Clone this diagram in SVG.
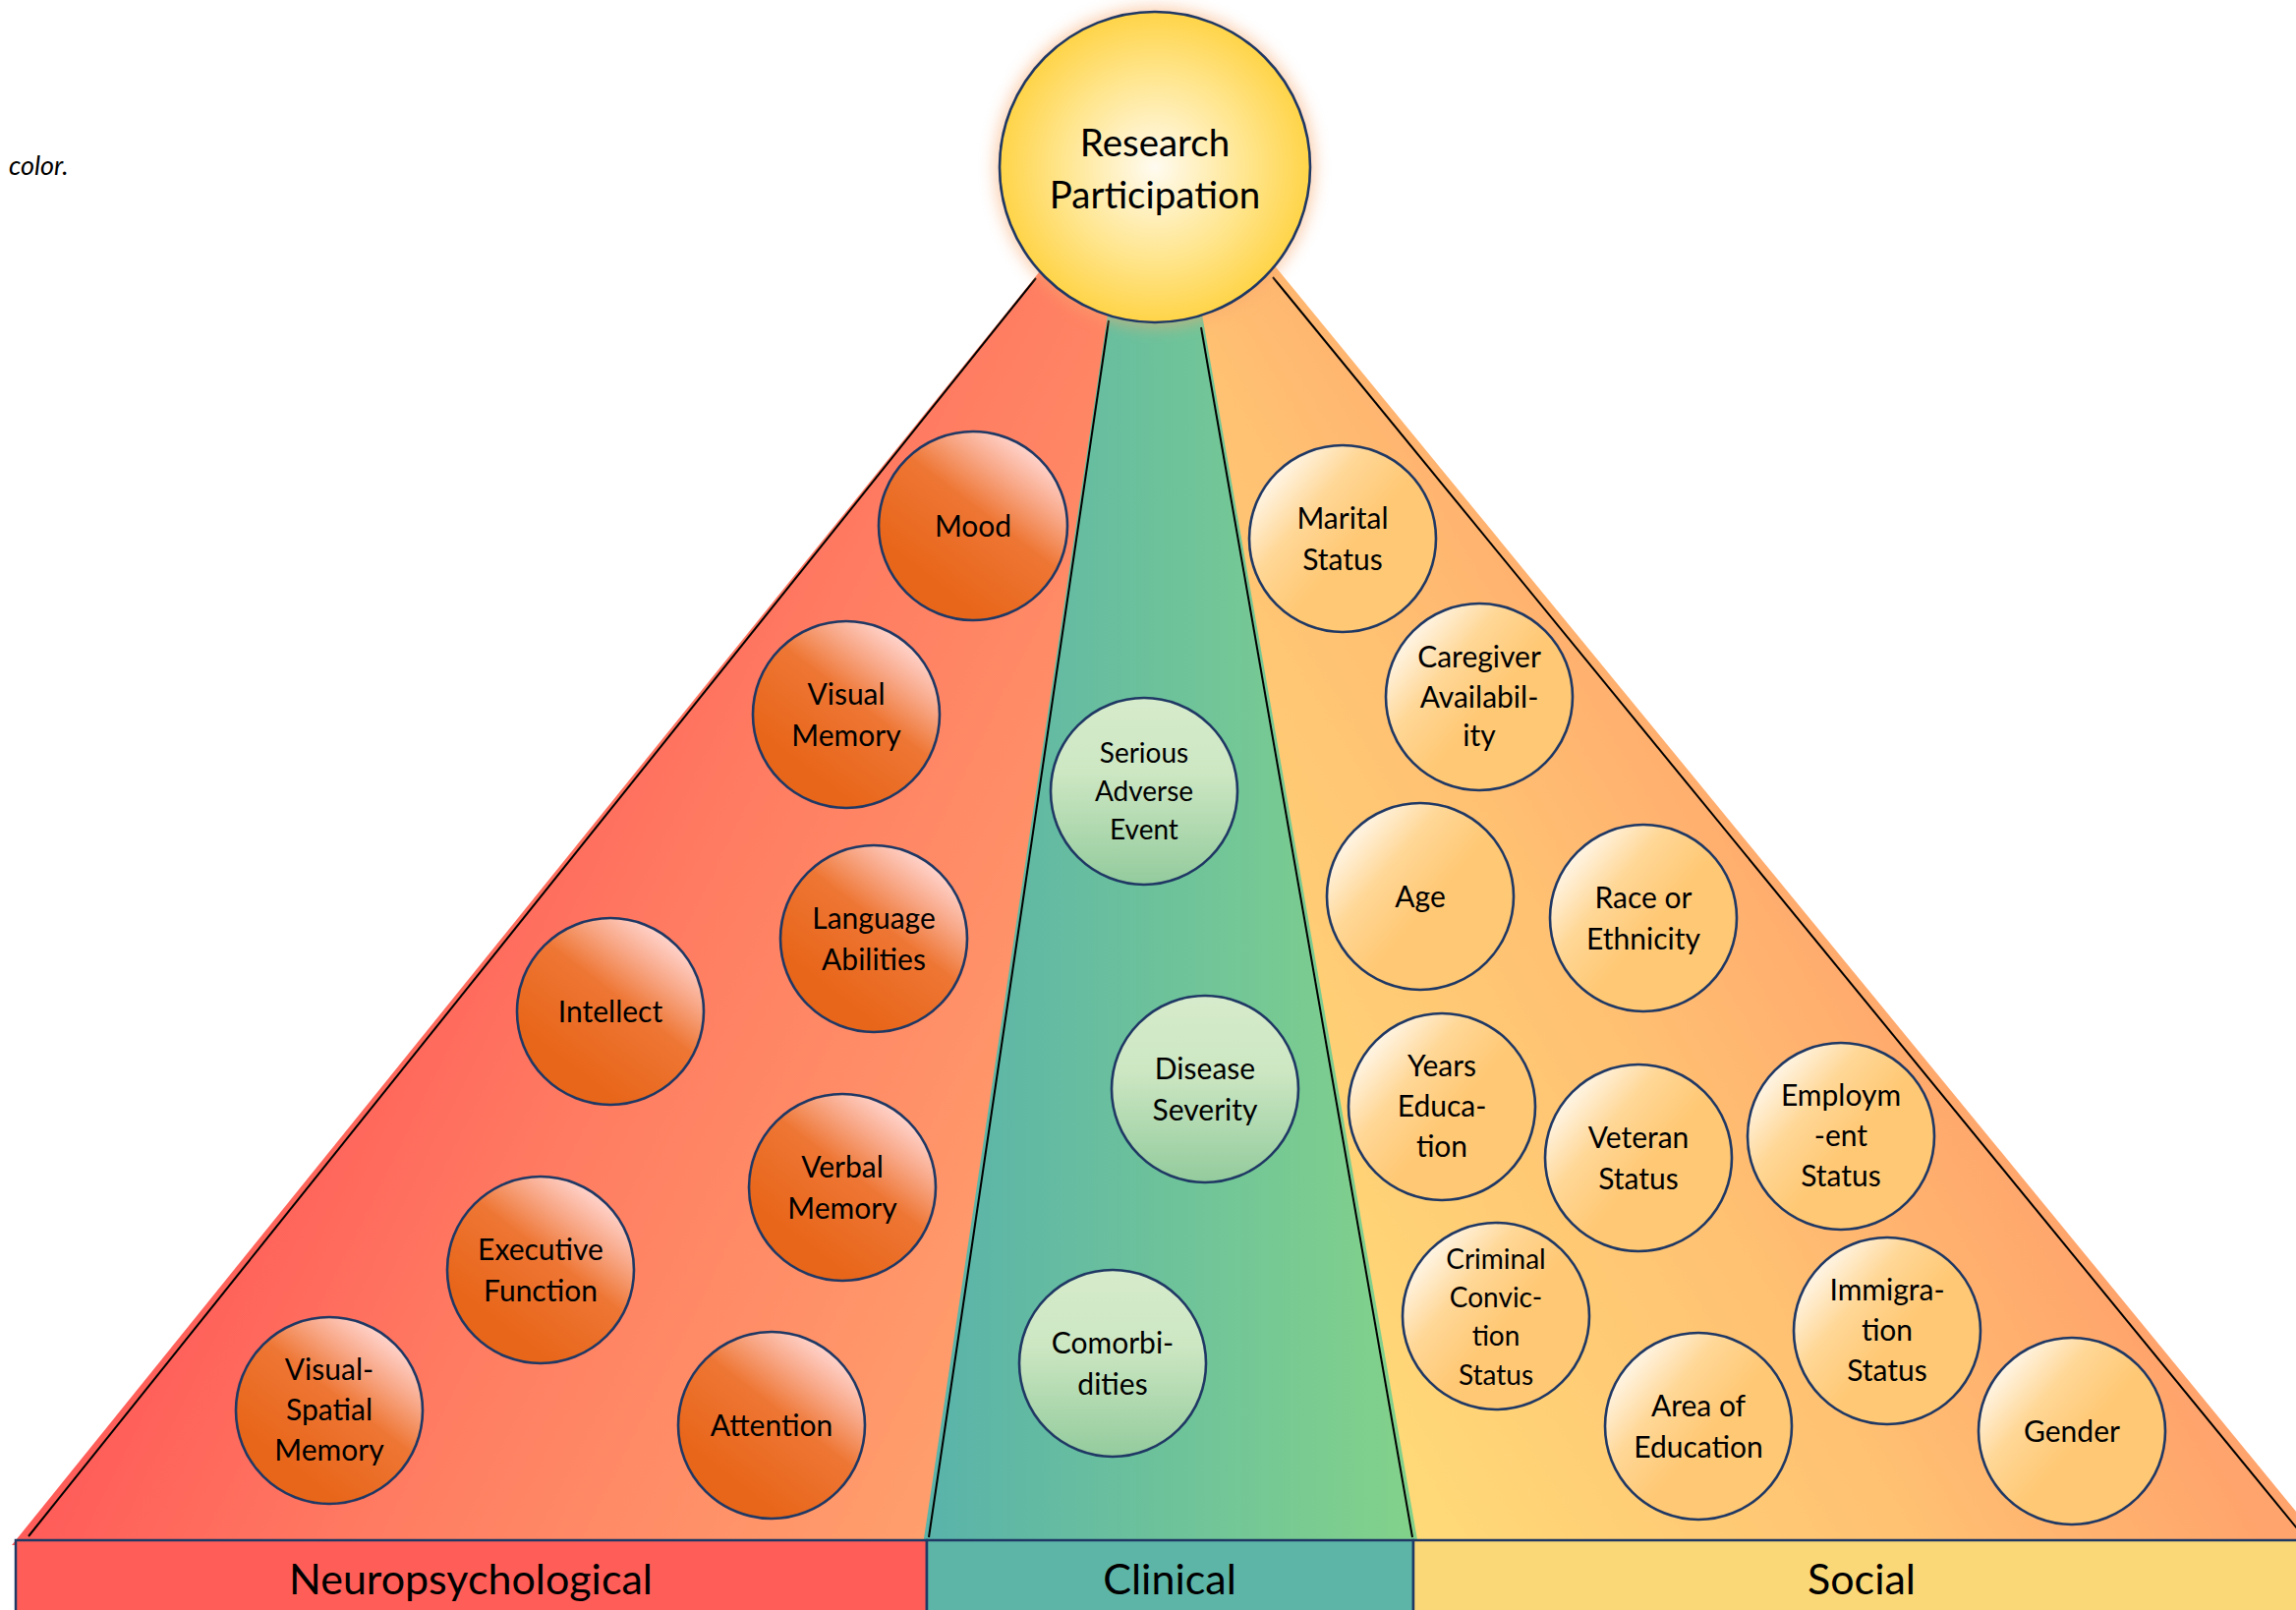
<svg xmlns="http://www.w3.org/2000/svg" width="2336" height="1638" viewBox="0 0 2336 1638">
<style>
.nd{stroke:#1F3864;stroke-width:2.6}
.t{font-family:Lato,"Open Sans","Liberation Sans",sans-serif;font-size:30px;fill:#000;text-anchor:middle}
.sm{font-size:28px}
.big{font-size:38.5px}
.ln{stroke:#000;stroke-width:2;fill:none}
.bar{stroke:#1F3864;stroke-width:2.5}
.bt{font-family:Lato,"Open Sans","Liberation Sans",sans-serif;font-size:43px;fill:#000;text-anchor:middle}
</style>
<defs>
<linearGradient id="gRedTri" gradientUnits="userSpaceOnUse" x1="0" y1="1100" x2="1000" y2="1600">
<stop offset="0.15" stop-color="#FF5657"/>
<stop offset="0.5" stop-color="#FF7D62"/>
<stop offset="1" stop-color="#FFA46E"/>
</linearGradient>
<linearGradient id="gSocTri" gradientUnits="userSpaceOnUse" x1="1440" y1="1560" x2="2077" y2="1178">
<stop offset="0" stop-color="#FFDA78"/>
<stop offset="0.6" stop-color="#FFC072"/>
<stop offset="1" stop-color="#FFA46C"/>
</linearGradient>
<linearGradient id="gCliTri" gradientUnits="userSpaceOnUse" x1="955" y1="0" x2="1430" y2="0">
<stop offset="0" stop-color="#5AB4A9"/>
<stop offset="1" stop-color="#82D18B"/>
</linearGradient>
<linearGradient id="gr" x1="0.82" y1="0.12" x2="0.3" y2="0.8">
<stop offset="0" stop-color="#FFD2CA"/>
<stop offset="0.22" stop-color="#F8A888"/>
<stop offset="0.48" stop-color="#EE7634"/>
<stop offset="1" stop-color="#E8661A"/>
</linearGradient>
<linearGradient id="gg" x1="0" y1="0" x2="0" y2="1">
<stop offset="0" stop-color="#D6EBCB"/>
<stop offset="0.4" stop-color="#CDE7C3"/>
<stop offset="1" stop-color="#93CB9D"/>
</linearGradient>
<linearGradient id="gs" x1="0.05" y1="0.12" x2="0.55" y2="0.55">
<stop offset="0" stop-color="#FFFFFF"/>
<stop offset="0.55" stop-color="#FFD796"/>
<stop offset="1" stop-color="#FFC874"/>
</linearGradient>
<radialGradient id="gy" cx="0.5" cy="0.5" r="0.5">
<stop offset="0" stop-color="#FFFBF0"/>
<stop offset="0.6" stop-color="#FFE58C"/>
<stop offset="1" stop-color="#FFD448"/>
</radialGradient>
<filter id="glow" x="-30%" y="-30%" width="160%" height="160%">
<feGaussianBlur stdDeviation="8"/>
</filter>
</defs>

<text x="9" y="178" font-family="Lato,'Open Sans',sans-serif" font-style="italic" font-size="27" fill="#000">color.</text>

<g id="pyramid">
<polygon points="12,1572 1087,240 1180,240 1180,1572" fill="url(#gRedTri)"/>
<polygon points="1175,240 1272,240 2364,1572 1175,1572" fill="url(#gSocTri)"/>
<polygon points="939,1572 1133,280 1216,280 1443,1572" fill="url(#gCliTri)"/>
</g>

<g id="pyramid-lines">
<line class="ln" x1="1054" y1="283" x2="29" y2="1563"/>
<line class="ln" x1="1128" y1="326" x2="945" y2="1564"/>
<line class="ln" x1="1222" y1="333" x2="1437" y2="1564"/>
<line class="ln" x1="1295" y1="282" x2="2346" y2="1566"/>
</g>

<g id="category-bar">
<rect class="bar" x="16" y="1567" width="927" height="90" fill="#FF5E58"/>
<rect class="bar" x="943" y="1567" width="495" height="90" fill="#5DB5A8"/>
<rect class="bar" x="1438" y="1567" width="912" height="90" fill="#FBD877"/>
<text class="bt" x="479" y="1622">Neuropsychological</text>
<text class="bt" x="1190" y="1622">Clinical</text>
<text class="bt" x="1894" y="1622">Social</text>
</g>

<g id="research-participation">
<circle cx="1175" cy="170" r="163" fill="#F8A86E" opacity="0.55" filter="url(#glow)"/>
<circle class="nd" cx="1175" cy="170" r="158" fill="url(#gy)"/>
<text class="t big" x="1175" y="159">Research</text>
<text class="t big" x="1175" y="212">Participation</text>
</g>

<g id="mood"><circle class="nd" cx="990" cy="535" r="96" fill="url(#gr)"/><text class="t" x="990" y="546">Mood</text></g>
<g id="visual-memory"><circle class="nd" cx="861" cy="727" r="95" fill="url(#gr)"/><text class="t" x="861" y="717">Visual</text><text class="t" x="861" y="759">Memory</text></g>
<g id="language-abilities"><circle class="nd" cx="889" cy="955" r="95" fill="url(#gr)"/><text class="t" x="889" y="945">Language</text><text class="t" x="889" y="987">Abilities</text></g>
<g id="intellect"><circle class="nd" cx="621" cy="1029" r="95" fill="url(#gr)"/><text class="t" x="621" y="1040">Intellect</text></g>
<g id="verbal-memory"><circle class="nd" cx="857" cy="1208" r="95" fill="url(#gr)"/><text class="t" x="857" y="1198">Verbal</text><text class="t" x="857" y="1240">Memory</text></g>
<g id="executive-function"><circle class="nd" cx="550" cy="1292" r="95" fill="url(#gr)"/><text class="t" x="550" y="1282">Executive</text><text class="t" x="550" y="1324">Function</text></g>
<g id="visual-spatial-memory"><circle class="nd" cx="335" cy="1435" r="95" fill="url(#gr)"/><text class="t" x="335" y="1404">Visual-</text><text class="t" x="335" y="1445">Spatial</text><text class="t" x="335" y="1486">Memory</text></g>
<g id="attention"><circle class="nd" cx="785" cy="1450" r="95" fill="url(#gr)"/><text class="t" x="785" y="1461">Attention</text></g>

<g id="serious-adverse-event"><circle class="nd" cx="1164" cy="805" r="95" fill="url(#gg)"/><text class="t sm" x="1164" y="776">Serious</text><text class="t sm" x="1164" y="815">Adverse</text><text class="t sm" x="1164" y="854">Event</text></g>
<g id="disease-severity"><circle class="nd" cx="1226" cy="1108" r="95" fill="url(#gg)"/><text class="t" x="1226" y="1098">Disease</text><text class="t" x="1226" y="1140">Severity</text></g>
<g id="comorbidities"><circle class="nd" cx="1132" cy="1387" r="95" fill="url(#gg)"/><text class="t" x="1132" y="1377">Comorbi-</text><text class="t" x="1132" y="1419">dities</text></g>

<g id="marital-status"><circle class="nd" cx="1366" cy="548" r="95" fill="url(#gs)"/><text class="t" x="1366" y="538">Marital</text><text class="t" x="1366" y="580">Status</text></g>
<g id="caregiver-availability"><circle class="nd" cx="1505" cy="709" r="95" fill="url(#gs)"/><text class="t" x="1505" y="679">Caregiver</text><text class="t" x="1505" y="720">Availabil-</text><text class="t" x="1505" y="759">ity</text></g>
<g id="age"><circle class="nd" cx="1445" cy="912" r="95" fill="url(#gs)"/><text class="t" x="1445" y="923">Age</text></g>
<g id="race-or-ethnicity"><circle class="nd" cx="1672" cy="934" r="95" fill="url(#gs)"/><text class="t" x="1672" y="924">Race or</text><text class="t" x="1672" y="966">Ethnicity</text></g>
<g id="years-education"><circle class="nd" cx="1467" cy="1126" r="95" fill="url(#gs)"/><text class="t" x="1467" y="1095">Years</text><text class="t" x="1467" y="1136">Educa-</text><text class="t" x="1467" y="1177">tion</text></g>
<g id="veteran-status"><circle class="nd" cx="1667" cy="1178" r="95" fill="url(#gs)"/><text class="t" x="1667" y="1168">Veteran</text><text class="t" x="1667" y="1210">Status</text></g>
<g id="employment-status"><circle class="nd" cx="1873" cy="1156" r="95" fill="url(#gs)"/><text class="t" x="1873" y="1125">Employm</text><text class="t" x="1873" y="1166">-ent</text><text class="t" x="1873" y="1207">Status</text></g>
<g id="criminal-conviction-status"><circle class="nd" cx="1522" cy="1339" r="95" fill="url(#gs)"/><text class="t sm" x="1522" y="1291">Criminal</text><text class="t sm" x="1522" y="1330">Convic-</text><text class="t sm" x="1522" y="1369">tion</text><text class="t sm" x="1522" y="1409">Status</text></g>
<g id="immigration-status"><circle class="nd" cx="1920" cy="1354" r="95" fill="url(#gs)"/><text class="t" x="1920" y="1323">Immigra-</text><text class="t" x="1920" y="1364">tion</text><text class="t" x="1920" y="1405">Status</text></g>
<g id="area-of-education"><circle class="nd" cx="1728" cy="1451" r="95" fill="url(#gs)"/><text class="t" x="1728" y="1441">Area of</text><text class="t" x="1728" y="1483">Education</text></g>
<g id="gender"><circle class="nd" cx="2108" cy="1456" r="95" fill="url(#gs)"/><text class="t" x="2108" y="1467">Gender</text></g>
</svg>
